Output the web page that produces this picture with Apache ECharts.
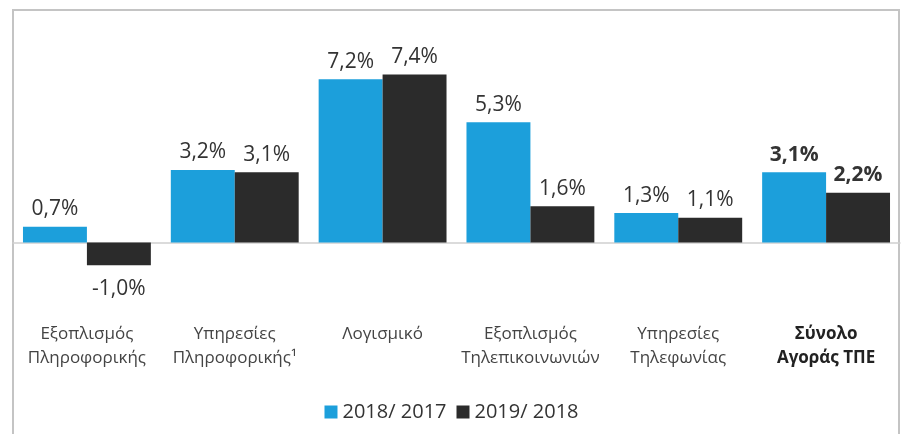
<!DOCTYPE html>
<html>
<head>
<meta charset="utf-8">
<script src="https://cdn.jsdelivr.net/npm/echarts@6/dist/echarts.min.js"></script>
<style>
  html, body { margin: 0; padding: 0; background: #fff; }
</style>
</head>
<body>
<div id="main" style="width: 903px;height: 434px;"></div>
<script>
  const categories = ['Εξοπλισμός\nΠληροφορικής', 'Υπηρεσίες\nΠληροφορικής¹', 'Λογισμικό',
    'Εξοπλισμός\nΤηλεπικοινωνιών', 'Υπηρεσίες\nΤηλεφωνίας', 'Σύνολο\nΑγοράς ΤΠΕ'];
  const seriesNames = ['2018/ 2017', '2019/ 2018'];
  const values2018 = [0.7, 3.2, 7.2, 5.3, 1.3, 3.1];
  const values2019 = [-1.0, 3.1, 7.4, 1.6, 1.1, 2.2];
  const totalIndex = 5;

  const fmt = (v) => v.toFixed(1).replace('.', ',') + '%';

  function barData(arr) {
    return arr.map((v, i) => {
      let item = { value: v, label: {} };
      if (v < 0) {
        item.label.position = 'bottom';
        item.label.distance = 13;
      }
      if (i === totalIndex) item.label.fontWeight = 'bold';
      return item;
    });
  }

  var myChart = echarts.init(document.getElementById('main'));
  var option = {
    textStyle: { fontFamily: 'Open Sans' },
    animation: false,
    color: ['#1c9fdb', '#2b2b2b'],
    graphic: [{
      type: 'rect',
      shape: { x: 13, y: 10, width: 886, height: 450 },
      style: { fill: 'none', stroke: '#c4c4c4', lineWidth: 2 }
    }],
    legend: {
      bottom: 7,
      left: 'center',
      itemWidth: 13,
      itemHeight: 13,
      itemGap: 10,
      icon: 'rect',
      textStyle: { fontSize: 20, color: '#333', fontFamily: 'Open Sans' },
      data: seriesNames
    },
    grid: { left: 13, width: 887, top: 61, height: 227 },
    xAxis: [
      {
        type: 'category',
        data: categories,
        axisLine: { show: true, onZero: true, lineStyle: { color: '#d0d0d0', width: 1.5 } },
        axisTick: { show: false },
        axisLabel: { show: false }
      },
      {
        type: 'category',
        data: categories.map((c, i) => i === totalIndex
          ? { value: c, textStyle: { fontWeight: 'bold', color: '#222' } }
          : c),
        position: 'bottom',
        axisLine: { show: false, onZero: false },
        axisTick: { show: false },
        axisLabel: {
          interval: 0,
          margin: 34,
          fontSize: 17,
          lineHeight: 24,
          color: '#444',
          fontFamily: 'Open Sans'
        }
      }
    ],
    yAxis: {
      type: 'value',
      min: -2,
      max: 8,
      show: false,
      splitLine: { show: false }
    },
    series: [
      {
        name: seriesNames[0],
        type: 'bar',
        barGap: '0%',
        barCategoryGap: '13.5%',
        data: barData(values2018),
        label: {
          show: true, position: 'top', distance: 7,
          fontSize: 21, color: '#333', fontFamily: 'Open Sans',
          formatter: (p) => fmt(p.value)
        }
      },
      {
        name: seriesNames[1],
        type: 'bar',
        barGap: '0%',
        barCategoryGap: '13.5%',
        data: barData(values2019),
        label: {
          show: true, position: 'top', distance: 7,
          fontSize: 21, color: '#333', fontFamily: 'Open Sans',
          formatter: (p) => fmt(p.value)
        }
      }
    ]
  };
  myChart.setOption(option);
</script>
</body>
</html>
